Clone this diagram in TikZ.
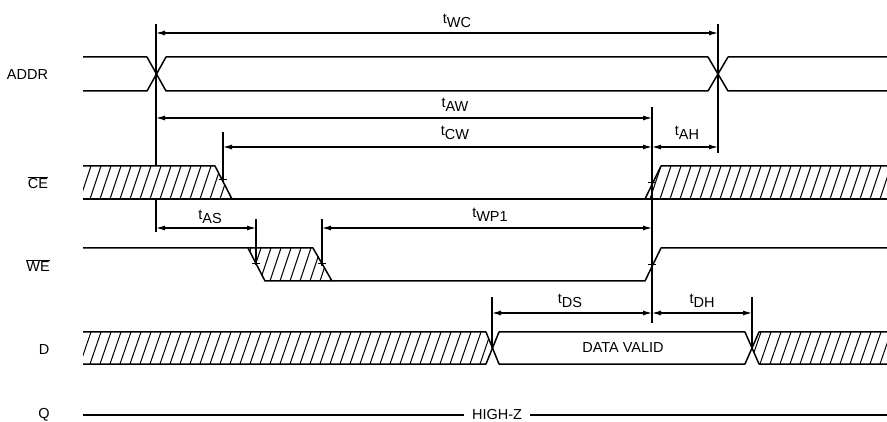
\documentclass[tikz,border=0pt]{standalone}
\usepackage{fontspec}
\setmainfont{Liberation Sans}
\usetikzlibrary{arrows.meta}
\newcommand\tlab[1]{t\raisebox{-4pt}{#1}}
\begin{document}
\begin{tikzpicture}[x=1pt,y=-1pt,
  sig/.style={line width=1.5pt,line join=round},
  hl/.style={line width=1pt},
  refl/.style={line width=1.1pt},
  dim/.style={line width=1.1pt,{Latex[length=9pt,width=5pt]}-{Latex[length=9pt,width=5pt]}},
  lbl/.style={font=\fontsize{14.5}{16}\selectfont,inner sep=0pt},
  tk/.style={line width=1pt}]
\useasboundingbox (0,0) rectangle (887,422);

% ---------- signal names ----------
\node[lbl] (nADDR) at (27.5,75) {ADDR};
\node[lbl] (nCE) at (38,183) {$\overline{\mbox{CE}}$};
\node[lbl] (nWE) at (38,266) {$\overline{\mbox{WE}}$};
\node[lbl] (nD) at (44,350) {D};
\node[lbl] (nQ) at (44,414.5) {Q};

% ---------- ADDR ----------
\draw[sig] (83,57) -- (147,57) -- (166,91) -- (708,91) -- (728,57) -- (887,57);
\draw[sig] (83,91) -- (147,91) -- (166,57) -- (708,57) -- (728,91) -- (887,91);

% ---------- CE ----------
\begin{scope}
  \clip (83,166) -- (215,166) -- (232,199) -- (83,199) -- cycle;
  \foreach \x in {60,70,...,240} \draw[hl] (\x,199) -- ({\x+11},166);
\end{scope}
\begin{scope}
  \clip (645,199) -- (661,166) -- (887,166) -- (887,199) -- cycle;
  \foreach \x in {630,640,...,890} \draw[hl] (\x,199) -- ({\x+11},166);
\end{scope}
\draw[sig] (83,166) -- (215,166) -- (232,199);
\draw[sig] (83,199) -- (887,199);
\draw[sig] (645,199) -- (661,166) -- (887,166);

% ---------- WE ----------
\begin{scope}
  \clip (248,248) -- (313,248) -- (332,281) -- (265,281) -- cycle;
  \foreach \x in {230,240,...,340} \draw[hl] (\x,281) -- ({\x+11},248);
\end{scope}
\draw[sig] (83,248) -- (313,248) -- (332,281);
\draw[sig] (248,248) -- (265,281) -- (645,281) -- (661,248) -- (887,248);

% ---------- D ----------
\begin{scope}
  \clip (83,332) -- (486,332) -- (492.5,348) -- (486,364) -- (83,364) -- cycle;
  \foreach \x in {60,70,...,500} \draw[hl] (\x,364) -- ({\x+11},332);
\end{scope}
\begin{scope}
  \clip (752,348) -- (759,332) -- (887,332) -- (887,364) -- (759,364) -- cycle;
  \foreach \x in {740,750,...,890} \draw[hl] (\x,364) -- ({\x+11},332);
\end{scope}
\draw[sig] (83,332) -- (486,332) -- (499,364) -- (745,364) -- (759,332) -- (887,332);
\draw[sig] (83,364) -- (486,364) -- (499,332) -- (745,332) -- (759,364) -- (887,364);
\node[lbl] (dv) at (623,348) {DATA VALID};

% ---------- Q ----------
\node[lbl,inner xsep=8pt] (hz) at (497,414.5) {HIGH-Z};
\coordinate (q0) at (83,415);
\coordinate (q1) at (887,415);
\draw[sig] (q0) -- (q0 -| hz.west);
\draw[sig] (hz.east |- q1) -- (q1);

% ---------- reference verticals ----------
\coordinate (v1t) at (156,24);  \coordinate (v1a) at (156,166);
\coordinate (v1b) at (156,199); \coordinate (v1e) at (156,232);
\coordinate (v2t) at (223,132); \coordinate (v2e) at (223,182);
\coordinate (v3t) at (256,219); \coordinate (v3e) at (256,265);
\coordinate (v4t) at (322,219); \coordinate (v4e) at (322,266);
\coordinate (v5t) at (652,107); \coordinate (v5e) at (652,323);
\coordinate (v6t) at (718,24);  \coordinate (v6e) at (718,153);
\coordinate (v7t) at (492,297); \coordinate (v7e) at (492,348);
\coordinate (v8t) at (752,297); \coordinate (v8e) at (752,348);
\draw[refl] (v1t) -- (v1a);
\draw[refl] (v1b) -- (v1e);
\draw[refl] (v2t) -- (v2e);
\draw[refl] (v3t) -- (v3e);
\draw[refl] (v4t) -- (v4e);
\draw[refl] (v5t) -- (v5e);
\draw[refl] (v6t) -- (v6e);
\draw[refl] (v7t) -- (v7e);
\draw[refl] (v8t) -- (v8e);

% ---------- ticks on edges ----------
\draw[tk] (219,180) -- (227,180);
\draw[tk] (648,183) -- (656,183);
\draw[tk] (252,263.5) -- (260,263.5);
\draw[tk] (318,263.5) -- (326,263.5);
\draw[tk] (648,265) -- (656,265);

% ---------- dimension arrows ----------
\draw[dim] (v1t |- 0,33) -- (v6t |- 0,33);
\draw[dim] (v1t |- 0,118) -- (v5t |- 0,118);
\draw[dim] (v2t |- 0,147) -- (v5t |- 0,147);
\draw[dim] (v5t |- 0,147) -- (v6t |- 0,147);
\draw[dim] (v1t |- 0,228) -- (v3t |- 0,228);
\draw[dim] (v4t |- 0,228) -- (v5t |- 0,228);
\draw[dim] (v7t |- 0,313) -- (v5t |- 0,313);
\draw[dim] (v5t |- 0,313) -- (v8t |- 0,313);

% ---------- timing labels ----------
\node[lbl] (tWC) at (457,21) {\tlab{WC}};
\node[lbl] (tAW) at (455,105) {\tlab{AW}};
\node[lbl] (tCW) at (455,133) {\tlab{CW}};
\node[lbl] (tAH) at (687,133) {\tlab{AH}};
\node[lbl] (tAS) at (210,217) {\tlab{AS}};
\node[lbl] (tWP) at (490,215) {\tlab{WP1}};
\node[lbl] (tDS) at (570,301) {\tlab{DS}};
\node[lbl] (tDH) at (702,301) {\tlab{DH}};
\end{tikzpicture}
\end{document}
